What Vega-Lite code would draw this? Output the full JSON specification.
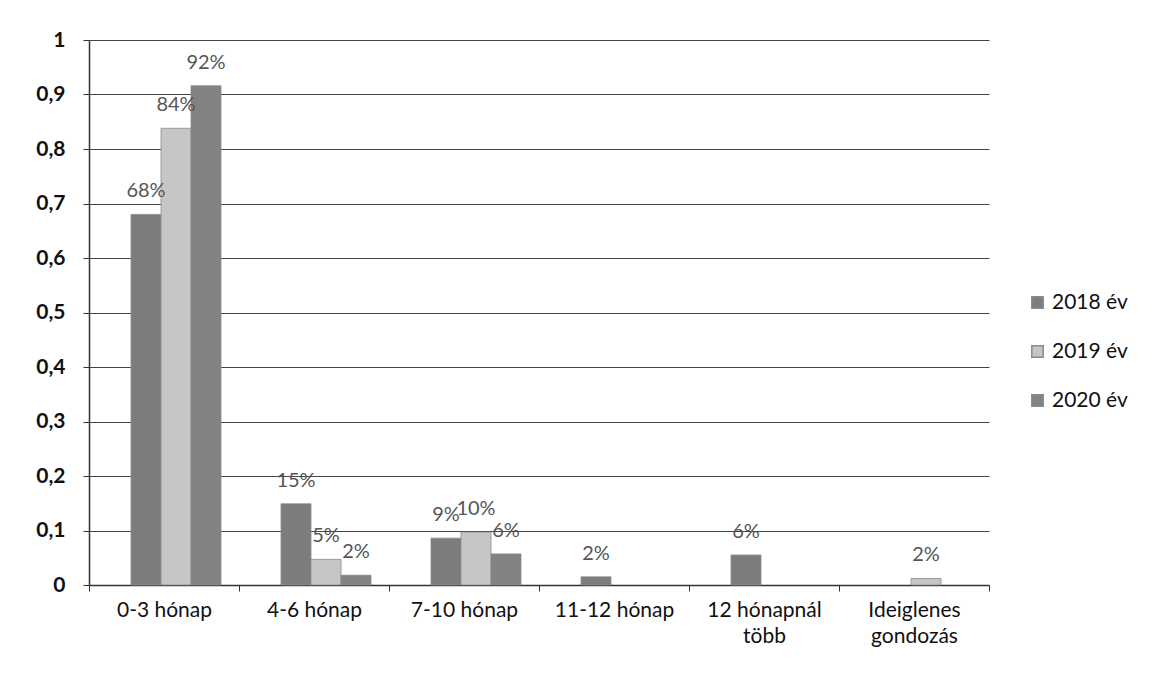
{
  "$schema": "https://vega.github.io/schema/vega-lite/v6.json",
  "width": 900,
  "height": 545,
  "autosize": "none",
  "padding": {"left": 89, "top": 40, "right": 168, "bottom": 98},
  "background": "white",
  "config": {
    "locale": {"number": {"decimal": ",", "thousands": " ", "grouping": [3], "currency": ["", ""]}},
    "font": "Lato",
    "view": {"stroke": null}
  },
  "data": {
    "values": [
      {"cat": "0-3 hónap", "year": "2018 év", "value": 0.68, "label": "68%"},
      {"cat": "0-3 hónap", "year": "2019 év", "value": 0.838, "label": "84%"},
      {"cat": "0-3 hónap", "year": "2020 év", "value": 0.916, "label": "92%"},
      {"cat": "4-6 hónap", "year": "2018 év", "value": 0.149, "label": "15%"},
      {"cat": "4-6 hónap", "year": "2019 év", "value": 0.047, "label": "5%"},
      {"cat": "4-6 hónap", "year": "2020 év", "value": 0.018, "label": "2%"},
      {"cat": "7-10 hónap", "year": "2018 év", "value": 0.086, "label": "9%"},
      {"cat": "7-10 hónap", "year": "2019 év", "value": 0.097, "label": "10%"},
      {"cat": "7-10 hónap", "year": "2020 év", "value": 0.057, "label": "6%"},
      {"cat": "11-12 hónap", "year": "2018 év", "value": 0.015, "label": "2%"},
      {"cat": "12 hónapnál több", "year": "2018 év", "value": 0.055, "label": "6%"},
      {"cat": "Ideiglenes gondozás", "year": "2019 év", "value": 0.012, "label": "2%"}
    ]
  },
  "encoding": {
    "x": {
      "field": "cat",
      "type": "nominal",
      "sort": null,
      "scale": {"domain": ["0-3 hónap", "4-6 hónap", "7-10 hónap", "11-12 hónap", "12 hónapnál több", "Ideiglenes gondozás"], "paddingInner": 0, "paddingOuter": 0},
      "axis": {
        "title": null,
        "labelAngle": 0,
        "tickBand": "extent",
        "domainColor": "#333",
        "domainWidth": 1.5,
        "tickColor": "#333",
        "tickSize": 6,
        "labelFontSize": 21,
        "labelColor": "#111",
        "labelPadding": 8,
        "labelLineHeight": 26,
        "labelExpr": "datum.label == '12 hónapnál több' ? ['12 hónapnál', 'több'] : datum.label == 'Ideiglenes gondozás' ? ['Ideiglenes', 'gondozás'] : datum.label"
      }
    },
    "xOffset": {
      "field": "year",
      "type": "nominal",
      "scale": {"domain": ["2018 év", "2019 év", "2020 év"], "paddingInner": 0, "paddingOuter": 1.16, "align": 0.7}
    },
    "y": {
      "field": "value",
      "type": "quantitative",
      "scale": {"domain": [0, 1], "nice": false},
      "axis": {
        "title": null,
        "values": [0, 0.1, 0.2, 0.3, 0.4, 0.5, 0.6, 0.7, 0.8, 0.9, 1],
        "format": "~g",
        "grid": true,
        "gridColor": "#444",
        "gridWidth": 1.2,
        "domainColor": "#333",
        "domainWidth": 1.5,
        "tickColor": "#333",
        "tickSize": 6,
        "labelFontSize": 21,
        "labelFontWeight": "bold",
        "labelColor": "#111",
        "labelPadding": 18
      }
    }
  },
  "layer": [
    {
      "mark": {"type": "bar", "stroke": "#8a8a8a", "strokeWidth": 0.8},
      "encoding": {
        "color": {
          "field": "year",
          "type": "nominal",
          "scale": {"domain": ["2018 év", "2019 év", "2020 év"], "range": ["#7c7c7c", "#c6c6c6", "#828282"]},
          "legend": {
            "title": null,
            "orient": "none",
            "legendX": 938,
            "legendY": 252,
            "symbolType": "square",
            "symbolSize": 130,
            "labelFontSize": 21,
            "labelColor": "#111",
            "rowPadding": 27,
            "labelOffset": 4
          }
        }
      }
    },
    {
      "mark": {"type": "text", "baseline": "bottom", "dy": -13, "fontSize": 20, "color": "#555"},
      "encoding": {"text": {"field": "label"}}
    }
  ]
}
